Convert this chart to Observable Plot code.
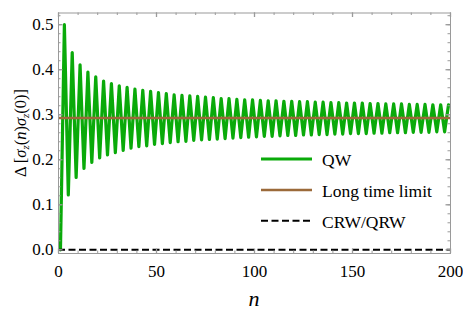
<!DOCTYPE html>
<html><head><meta charset="utf-8">
<script src="https://cdn.jsdelivr.net/npm/d3@7"></script>
<script src="https://cdn.jsdelivr.net/npm/@observablehq/plot@0.6"></script>
<style>body{margin:0;background:#fff}#chart svg{display:block}</style>
</head><body><div id="chart"></div>
<script>
// QW values at odd n: troughs at n = 1,5,9,...,197 ; peaks at n = 3,7,11,...,199
const troughs = [0,0.122,0.161,0.181,0.194,0.204,0.211,0.216,0.221,0.226,0.229,0.231,0.234,0.236,0.238,0.240,0.241,0.243,0.244,0.245,0.246,0.247,0.248,
  0.249,0.250,0.251,0.252,0.252,0.253,0.254,0.254,0.255,0.255,0.256,0.256,0.257,0.257,0.258,0.258,0.258,0.259,0.259,0.260,0.260,0.260,0.261,0.261,0.261,0.262,0.262];
const peaks = [0.5,0.438,0.411,0.395,0.384,0.375,0.369,0.364,0.361,0.357,0.354,0.352,0.349,0.347,0.344,0.343,0.342,0.341,0.339,0.338,0.336,0.336,0.334,
  0.333,0.333,0.332,0.331,0.331,0.330,0.330,0.329,0.329,0.328,0.328,0.327,0.327,0.326,0.326,0.326,0.325,0.325,0.324,0.324,0.324,0.323,0.323,0.323,0.322,0.322,0.322];
const longTimeLimit = 0.2929;
const crwQrw = 0;
const xTicks = [0, 50, 100, 150, 200];
const yTicks = [0, 0.1, 0.2, 0.3, 0.4, 0.5];
const xMinor = d3.range(0, 201, 10);
const yMinor = d3.range(0, 0.521, 0.02);
const seriesNames = ["QW", "Long time limit", "CRW/QRW"];
const colors = {QW: "#0aaa0a", limit: "#9b6a3a", crw: "#000"};

const qw = [];
troughs.forEach((t, i) => {
  qw.push({n: 1 + 4 * i, v: t});
  if (i < peaks.length) qw.push({n: 3 + 4 * i, v: peaks[i]});
});

const W = 463, H = 313, mL = 58, mR = 13, mT = 12.5, mB = 60;
const pw = W - mL - mR, ph = H - mT - mB;
const gray = "#9a9a9a";
const ff = "Liberation Serif";

const chart = Plot.plot({
  width: W, height: H,
  marginLeft: mL, marginRight: mR, marginTop: mT, marginBottom: mB,
  style: {fontFamily: ff, fontSize: "17px", background: "#fff"},
  x: {domain: [0, 200]},
  y: {domain: [-0.0082, 0.526]},
  marks: [
    Plot.line(qw, {x: "n", y: "v", stroke: colors.QW, strokeWidth: 3.2, strokeLinejoin: "round"}),
    Plot.ruleY([longTimeLimit], {stroke: colors.limit, strokeWidth: 2.5}),
    Plot.ruleY([crwQrw], {stroke: colors.crw, strokeWidth: 2, strokeDasharray: "7,3.5"}),
    Plot.frame({stroke: gray, strokeWidth: 1}),
    // ticks inward on all sides
    Plot.tickX(xMinor, {x: d => d, insetTop: ph - 2.5, stroke: gray}),
    Plot.tickX(xTicks, {x: d => d, insetTop: ph - 4.5, stroke: gray, strokeWidth: 1.3}),
    Plot.tickX(xMinor, {x: d => d, insetBottom: ph - 2.5, stroke: gray}),
    Plot.tickX(xTicks, {x: d => d, insetBottom: ph - 4.5, stroke: gray, strokeWidth: 1.3}),
    Plot.tickY(yMinor, {y: d => d, insetRight: pw - 2.5, stroke: gray}),
    Plot.tickY(yTicks, {y: d => d, insetRight: pw - 4.5, stroke: gray, strokeWidth: 1.3}),
    Plot.tickY(yMinor, {y: d => d, insetLeft: pw - 2.5, stroke: gray}),
    Plot.tickY(yTicks, {y: d => d, insetLeft: pw - 4.5, stroke: gray, strokeWidth: 1.3}),
    Plot.axisX(xTicks, {tickSize: 0, tickPadding: 11, label: null, fontSize: 17, tickFormat: d => String(d)}),
    Plot.axisY(yTicks, {tickSize: 0, tickPadding: 5, label: null, fontSize: 17, tickFormat: d3.format(".1f")})
  ]
});

document.getElementById("chart").appendChild(chart);
const svg = d3.select(chart);

// y-axis label
const yl = svg.append("text")
  .attr("transform", "translate(26,133) rotate(-90)")
  .attr("text-anchor", "middle")
  .attr("font-family", ff).attr("font-size", 16.5).attr("fill", "#000");
yl.append("tspan").text("Δ [");
yl.append("tspan").attr("font-style", "italic").text("σ");
yl.append("tspan").attr("font-style", "italic").attr("font-size", 11).attr("dy", 3).text("z");
yl.append("tspan").attr("dy", -3).text("(");
yl.append("tspan").attr("font-style", "italic").text("n");
yl.append("tspan").text(")");
yl.append("tspan").attr("font-style", "italic").text("σ");
yl.append("tspan").attr("font-style", "italic").attr("font-size", 11).attr("dy", 3).text("z");
yl.append("tspan").attr("dy", -3).text("(0)]");

// x-axis label
svg.append("text").attr("x", 254).attr("y", 306).attr("text-anchor", "middle")
  .attr("font-family", ff).attr("font-size", 22).attr("font-style", "italic").text("n");

// legend
const leg = [
  {name: seriesNames[0], color: colors.QW, w: 3, dash: null, y: 159},
  {name: seriesNames[1], color: colors.limit, w: 2.5, dash: null, y: 190},
  {name: seriesNames[2], color: colors.crw, w: 2, dash: "7,3.5", y: 220.7}
];
leg.forEach(d => {
  svg.append("line").attr("x1", 261).attr("x2", 312).attr("y1", d.y).attr("y2", d.y)
    .attr("stroke", d.color).attr("stroke-width", d.w).attr("stroke-dasharray", d.dash);
  svg.append("text").attr("x", 322).attr("y", d.y + 1).attr("dy", "0.35em")
    .attr("text-anchor", "start")
    .attr("font-family", ff).attr("font-size", 17.5).attr("fill", "#000").text(d.name);
});
</script>
</body></html>
